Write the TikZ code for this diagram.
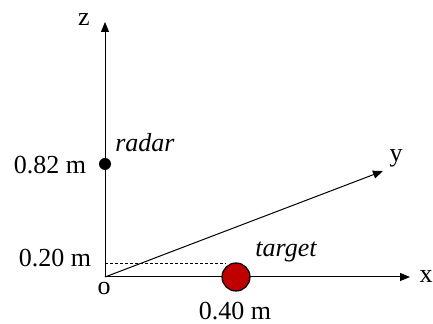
\documentclass[tikz,border=0pt]{standalone}
\usepackage{fontspec}
\setmainfont{Liberation Serif}
\usetikzlibrary{arrows.meta}
\definecolor{tgtred}{HTML}{C00000}
\begin{document}
\begin{tikzpicture}[x=0.5pt,y=-0.5pt,
  axis/.style={line width=0.5pt,-{Triangle[length=5pt,width=4pt]}},
  lbl/.style={inner sep=0pt,anchor=base,font=\fontsize{13}{15}\selectfont},
  ilbl/.style={lbl,font=\fontsize{13}{15}\selectfont\itshape}]
\useasboundingbox (0,0) rectangle (433,324);
\coordinate (o) at (105,277);
\coordinate (zend) at (105,22);
\coordinate (xend) at (410,277);
\coordinate (yend) at (383,171);
\coordinate (h20) at (105,264);
\node[circle,fill=black,inner sep=0pt,minimum size=6pt] (radar) at (105,164) {};
\draw[axis] (o) -- (zend);
\draw[axis] (o) -- (xend);
\draw[axis] (o) -- (yend);
\node[circle,draw=black,line width=0.6pt,fill=tgtred,inner sep=0pt,minimum size=14pt] (target) at (236,277) {};
\draw[dashed,line width=0.5pt,dash pattern=on 1.5pt off 1pt] (h20) -- (h20 -| target.north west);
\node[lbl] (zl) at (84,26) {z};
\node[ilbl] (radarl) at (145,152) {radar};
\node[lbl] (r82) at (50,174) {0.82 m};
\node[lbl] (yl) at (396,162) {y};
\node[lbl] (h20l) at (55,267) {0.20 m};
\node[lbl] (ol) at (104,295) {o};
\node[ilbl] (targetl) at (286,257) {target};
\node[lbl] (xl) at (426,283) {x};
\node[lbl] (d40l) at (235,320) {0.40 m};
\end{tikzpicture}
\end{document}
